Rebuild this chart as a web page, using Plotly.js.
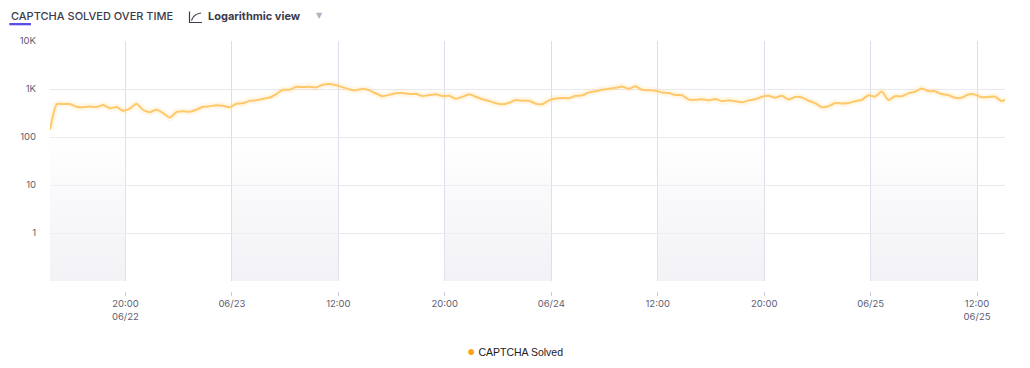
<!DOCTYPE html>
<html>
<head>
<meta charset="utf-8">
<script src="https://cdn.plot.ly/plotly-3.0.1.min.js"></script>
<style>
  html, body { margin: 0; padding: 0; background: #ffffff; }
  #chart { width: 1030px; height: 368px; }
</style>
</head>
<body>
<div id="chart"></div>
<script>
// ---- data ----
const seriesName = 'CAPTCHA Solved';
const startTime = '2023-06-22T14:20:00Z';
const stepMinutes = 30;
const solved = [
  142, 481, 488, 486, 427, 417, 433, 423, 463, 398,
  421, 353, 389, 493, 365, 329, 370, 316, 253, 329,
  342, 337, 370, 427, 437, 459, 448, 417, 493, 503,
  569, 580, 626, 663, 784, 962, 962, 1111, 1100, 1111,
  1080, 1222, 1270, 1193, 1085, 981, 940, 1010, 935, 807,
  706, 758, 815, 822, 784, 795, 713, 747, 773, 716,
  720, 626, 689, 773, 689, 611, 561, 505, 479, 517,
  589, 569, 569, 495, 483, 580, 632, 650, 641, 720,
  737, 850, 900, 962, 1010, 1059, 1127, 1010, 1138, 962,
  940, 918, 846, 822, 754, 740, 603, 594, 611, 583,
  620, 556, 580, 553, 527, 580, 611, 689, 723, 657,
  723, 603, 683, 667, 569, 507, 417, 437, 510, 498,
  510, 558, 594, 740, 696, 883, 592, 709, 703, 811,
  875, 1019, 904, 900, 784, 747, 657, 657, 769, 769,
  673, 679, 699, 561, 635
];
const xRange = ['2023-06-22 14:20', '2023-06-25 14:06'];
const tickTimes = [
  '2023-06-22 20:00', '2023-06-23 04:00', '2023-06-23 12:00',
  '2023-06-23 20:00', '2023-06-24 04:00', '2023-06-24 12:00',
  '2023-06-24 20:00', '2023-06-25 04:00', '2023-06-25 12:00'
];
const tickLabels = [
  '20:00<br>06/22', '06/23', '12:00', '20:00', '06/24', '12:00', '20:00', '06/25', '12:00<br>06/25'
];
const yTickVals = [1, 10, 100, 1000, 10000];
const yTickLabels = ['1', '10', '100', '1K', '10K'];
const shadedBands = [
  ['2023-06-22 14:20', '2023-06-22 20:00'],
  ['2023-06-23 04:00', '2023-06-23 12:00'],
  ['2023-06-23 20:00', '2023-06-24 04:00'],
  ['2023-06-24 12:00', '2023-06-24 20:00'],
  ['2023-06-25 04:00', '2023-06-25 12:00']
];
const yMin = 0.1, yMax = 10000;

// ---- build ----
function fmt(d) {
  const p = n => String(n).padStart(2, '0');
  return d.getUTCFullYear() + '-' + p(d.getUTCMonth() + 1) + '-' + p(d.getUTCDate()) +
         ' ' + p(d.getUTCHours()) + ':' + p(d.getUTCMinutes());
}
const t0 = new Date(startTime).getTime();
const times = solved.map((_, i) => fmt(new Date(t0 + i * stepMinutes * 60000)));

const bx = [], by = [];
shadedBands.forEach(([a, b]) => {
  bx.push(a, b, b, a, a, null);
  by.push(yMin, yMin, yMax, yMax, yMin, null);
});

const traces = [
  {
    x: bx, y: by, type: 'scatter', mode: 'none', fill: 'toself',
    fillgradient: {
      type: 'vertical',
      colorscale: [[0, 'rgba(236,236,243,0.7)'], [0.4, 'rgba(244,244,248,0.45)'], [0.68, 'rgba(255,255,255,0)'], [1, 'rgba(255,255,255,0)']]
    },
    hoverinfo: 'skip', showlegend: false
  },
  {
    x: times, y: solved, type: 'scatter', mode: 'lines',
    line: { color: 'rgba(255,210,130,0.18)', width: 7, shape: 'spline', smoothing: 0.5 },
    hoverinfo: 'skip', showlegend: false
  },
  {
    x: times, y: solved, type: 'scatter', mode: 'lines', name: seriesName,
    line: { color: '#ffc86a', width: 2, shape: 'spline', smoothing: 0.5 },
    showlegend: false
  },
  {
    x: [null], y: [null], xaxis: 'x2', type: 'scatter', mode: 'markers', name: seriesName,
    marker: { color: '#f5a623', size: 8 }, showlegend: false, hoverinfo: 'skip'
  }
];

const pxX = px => (px - 50) / 955;
const pxY = py => (291 - py) / 250;

const layout = {
  width: 1030, height: 368,
  margin: { l: 50, r: 25, t: 41, b: 77, autoexpand: false },
  paper_bgcolor: '#ffffff', plot_bgcolor: '#ffffff',
  font: { family: 'Inter, Roboto, sans-serif', size: 10, color: '#5d5d72' },
  showlegend: false,
  xaxis: {
    type: 'date', range: xRange, tickvals: tickTimes, ticktext: tickLabels,
    showticklabels: false, ticks: '', showgrid: true, gridcolor: '#dcdde9', gridwidth: 1,
    showline: false, zeroline: false
  },
  xaxis2: {
    type: 'date', overlaying: 'x', anchor: 'free', position: 0, range: xRange,
    tickvals: tickTimes, ticktext: tickLabels,
    ticks: 'outside', ticklen: 4, tickcolor: '#c8cbdd', tickwidth: 1,
    showgrid: false, showline: false, zeroline: false, automargin: false,
    tickfont: { family: 'Inter, Roboto, sans-serif', size: 9.5, color: '#5d5d72' }
  },
  yaxis: {
    type: 'log', range: [-1, 4], domain: [0.04, 1], automargin: false,
    tickvals: yTickVals, ticktext: yTickLabels,
    ticks: '', showgrid: true, gridcolor: '#e8e8f0', gridwidth: 1,
    showline: false, zeroline: false, ticklabelstandoff: 13,
    tickfont: { family: 'Inter, Roboto, sans-serif', size: 9.5, color: '#5d5d72' }
  },
  annotations: [
    {
      xref: 'paper', yref: 'paper', x: pxX(9), y: pxY(16), xanchor: 'left', yanchor: 'middle',
      text: 'CAPTCHA SOLVED OVER TIME', showarrow: false,
      font: { family: 'Inter, Roboto, sans-serif', size: 11, color: '#3b3b4c', weight: 500 }
    },
    {
      xref: 'paper', yref: 'paper', x: pxX(205.5), y: pxY(16), xanchor: 'left', yanchor: 'middle',
      text: '<b>Logarithmic view</b>', showarrow: false,
      font: { family: 'Inter, Roboto, sans-serif', size: 11, color: '#3b3b4c' }
    },
    {
      xref: 'paper', yref: 'paper', x: pxX(319), y: pxY(15.5), xanchor: 'center', yanchor: 'middle',
      text: '▼', showarrow: false,
      font: { family: 'DejaVu Sans, sans-serif', size: 8, color: '#b2b2bc' }
    },
    {
      xref: 'paper', yref: 'paper', x: pxX(465), y: pxY(350.5), xanchor: 'left', yanchor: 'middle',
      text: '<span style="color:#f5a623;font-size:14px">●</span> ' + seriesName, showarrow: false,
      font: { family: 'Liberation Sans, Arial, sans-serif', size: 10.5, color: '#222222' }
    }
  ],
  shapes: [
    {
      type: 'rect', xref: 'paper', yref: 'paper',
      x0: pxX(9.3), x1: pxX(31), y0: pxY(25.3), y1: pxY(23),
      fillcolor: '#5b4ee6', line: { width: 0 }
    },
    {
      type: 'path', xref: 'paper', yref: 'paper',
      path: 'M ' + pxX(189.5) + ' ' + pxY(11.5) + ' L ' + pxX(189.5) + ' ' + pxY(22.5) + ' L ' + pxX(202) + ' ' + pxY(22.5) +
            ' M ' + pxX(191.5) + ' ' + pxY(20.5) + ' Q ' + pxX(193.5) + ' ' + pxY(14) + ' ' + pxX(201) + ' ' + pxY(13),
      line: { color: '#3b3b4c', width: 1.2 }
    }
  ]
};

Plotly.newPlot('chart', traces, layout, { displayModeBar: false, staticPlot: true });
</script>
</body>
</html>
